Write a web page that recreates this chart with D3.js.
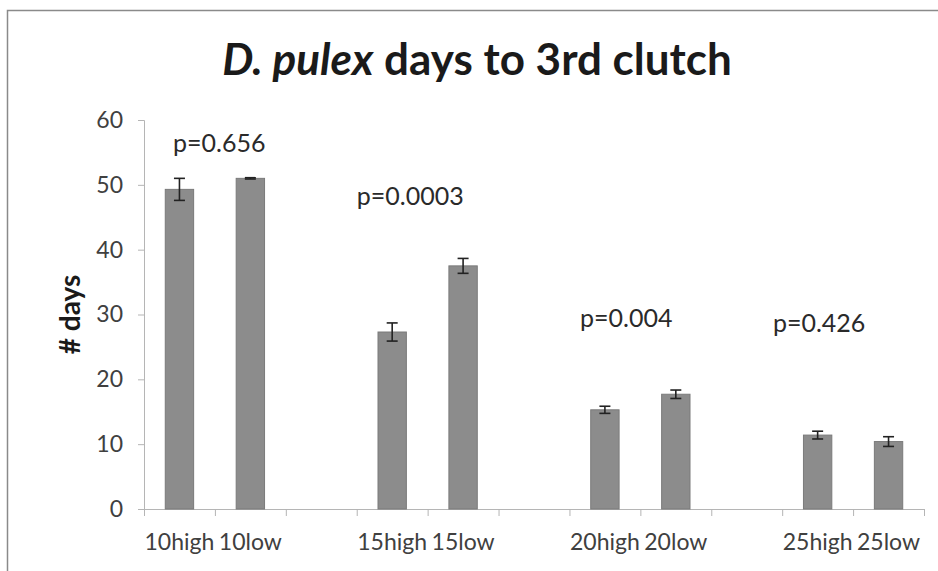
<!DOCTYPE html>
<html>
<head>
<meta charset="utf-8">
<style>
  * { margin:0; padding:0 }
  body { background:#fff; overflow:hidden; }
  text { font-family: Lato, "DejaVu Sans", sans-serif; }
</style>
<script src="https://cdn.jsdelivr.net/npm/d3@7"></script>
</head>
<body>
<script>
// categories (blank slots are the gaps between temperature groups)
var categories = ["10high", "10low", "", "15high", "15low", "", "20high", "20low", "", "25high", "25low"];
var means  = [49.3, 51.0, null, 27.3, 37.5, null, 15.3, 17.7, null, 11.4, 10.4];
var errors = [1.7, 0.1, null, 1.4, 1.15, null, 0.55, 0.65, null, 0.6, 0.75];
var yTicks = [0, 10, 20, 30, 40, 50, 60];

// p-value notes: x in category units from the left of the axis, y in days
var pLabels = ["p=0.656", "p=0.0003", "p=0.004", "p=0.426"];
var pX = [0.41, 3.0, 6.15, 8.87];
var pY = [55.1, 46.9, 28.1, 27.3];

var width = 938, height = 571;
var margin = {left: 144, right: 14, top: 120, bottom: 62};

var svg = d3.select("body").append("svg")
    .attr("width", width)
    .attr("height", height);

// chart frame
svg.append("rect")
    .attr("x", 7.5).attr("y", 10.5)
    .attr("width", 1000).attr("height", 700)
    .attr("fill", "none")
    .attr("stroke", "#8a8a8a")
    .attr("stroke-width", 1.5);

var x = d3.scaleBand()
    .domain(d3.range(categories.length))
    .range([margin.left, width - margin.right])
    .paddingInner(0.6)
    .paddingOuter(0.3);

var xLin = d3.scaleLinear()
    .domain([0, categories.length])
    .range([margin.left, width - margin.right]);

var y = d3.scaleLinear()
    .domain([0, 60])
    .range([height - margin.bottom, margin.top]);

// y axis
var yAxis = svg.append("g")
    .attr("transform", "translate(" + margin.left + ",0)")
    .call(d3.axisLeft(y).tickValues(yTicks).tickSize(6).tickPadding(15));
yAxis.select(".domain").attr("stroke", "#b5b5b5");
yAxis.selectAll(".tick line").attr("stroke", "#b5b5b5");
yAxis.selectAll(".tick text")
    .attr("fill", "#404040")
    .style("font-size", "23px");

// x axis: ticks between categories
var xTickPos = d3.range(categories.length + 1);
var xAxis = svg.append("g")
    .attr("transform", "translate(0," + y(0) + ")")
    .call(d3.axisBottom(xLin).tickValues(xTickPos).tickSize(7).tickFormat(""));
xAxis.select(".domain").attr("stroke", "#b5b5b5");
xAxis.selectAll(".tick line").attr("stroke", "#b5b5b5");

svg.append("g").selectAll("text")
    .data(categories)
    .enter().append("text")
    .attr("x", function(d, i) { return x(i) + x.bandwidth() / 2; })
    .attr("y", y(0) + 41)
    .attr("text-anchor", "middle")
    .attr("fill", "#404040")
    .style("font-size", "23px")
    .text(function(d) { return d; });

// bars
var idx = d3.range(categories.length).filter(function(i) { return means[i] != null; });

svg.append("g").selectAll("rect")
    .data(idx)
    .enter().append("rect")
    .attr("x", function(i) { return x(i); })
    .attr("y", function(i) { return y(means[i]); })
    .attr("width", x.bandwidth())
    .attr("height", function(i) { return y(0) - y(means[i]); })
    .attr("fill", "#8c8c8c")
    .attr("stroke", "#7a7a7a")
    .attr("stroke-width", 1);

// error bars
var eb = svg.append("g")
    .attr("stroke", "#222")
    .attr("stroke-width", 1.6);
idx.forEach(function(i) {
  var cx = x(i) + x.bandwidth() / 2,
      hi = y(means[i] + errors[i]),
      lo = y(means[i] - errors[i]);
  eb.append("line").attr("x1", cx).attr("x2", cx).attr("y1", hi).attr("y2", lo);
  eb.append("line").attr("x1", cx - 5.5).attr("x2", cx + 5.5).attr("y1", hi).attr("y2", hi);
  eb.append("line").attr("x1", cx - 5.5).attr("x2", cx + 5.5).attr("y1", lo).attr("y2", lo);
});

// p values
svg.append("g").selectAll("text")
    .data(pLabels)
    .enter().append("text")
    .attr("x", function(d, i) { return xLin(pX[i]); })
    .attr("y", function(d, i) { return y(pY[i]); })
    .attr("fill", "#2a2a2a")
    .style("font-size", "25px")
    .text(function(d) { return d; });

// title
var title = svg.append("text")
    .attr("x", 477)
    .attr("y", 75)
    .attr("text-anchor", "middle")
    .attr("fill", "#1a1a1a")
    .style("font-size", "44px")
    .style("font-weight", "bold");
title.append("tspan").style("font-style", "italic").text("D. pulex");
title.append("tspan").text(" days to 3rd clutch");

// y label
svg.append("text")
    .attr("transform", "translate(80," + y(30) + ")rotate(-90)")
    .attr("text-anchor", "middle")
    .attr("fill", "#1a1a1a")
    .style("font-size", "28px")
    .style("font-weight", "bold")
    .text("# days");
</script>
</body>
</html>
